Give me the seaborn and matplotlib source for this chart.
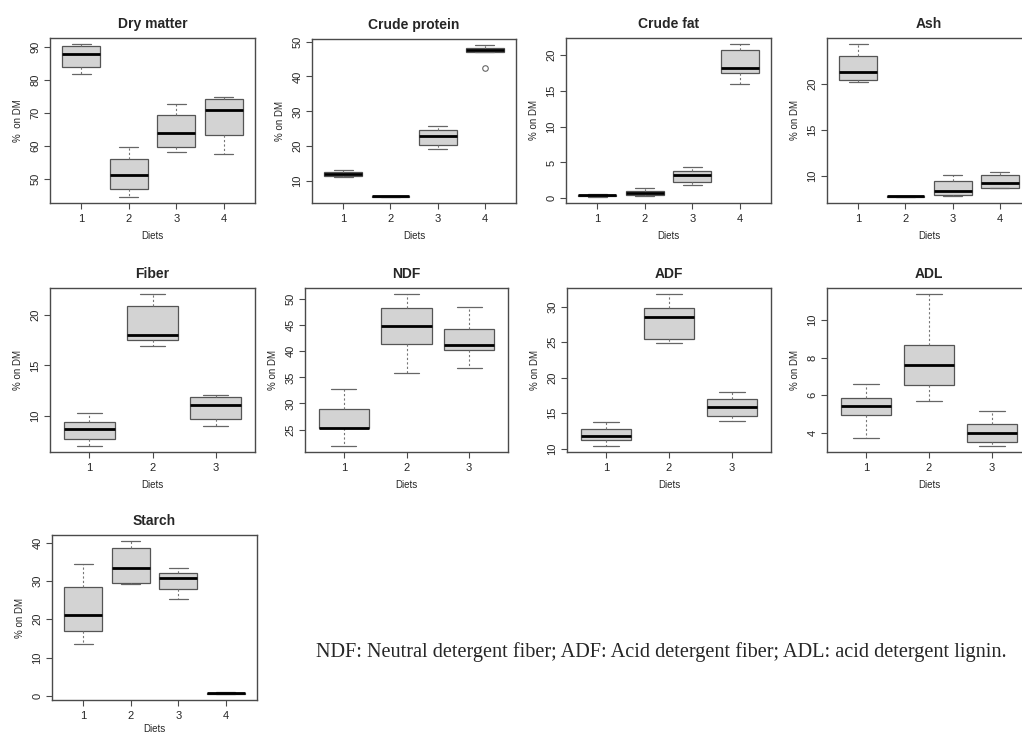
#importing libraries
import pandas as pd
import seaborn as sns
import matplotlib.pyplot as plt

#values, five per diet (min, q1, median, q3, max)
dry_matter = [[81.9, 83.9, 87.8, 90.2, 90.8],
              [44.7, 47.2, 51.4, 56.1, 59.8],
              [58.1, 59.8, 64.0, 69.4, 72.8],
              [57.6, 63.3, 71.0, 74.1, 74.9]]
crude_protein = [[11.2, 11.5, 12.0, 12.5, 13.3],
                 [5.5, 5.6, 5.7, 5.8, 5.9],
                 [19.1, 20.5, 22.9, 24.7, 25.8],
                 [42.4, 47.0, 47.6, 48.3, 49.0]]
crude_fat = [[0.2, 0.3, 0.4, 0.5, 0.6],
             [0.3, 0.47, 0.8, 1.0, 1.4],
             [1.8, 2.3, 3.3, 3.8, 4.3],
             [15.9, 17.5, 18.1, 20.7, 21.5]]
ash = [[20.2, 20.4, 21.3, 23.0, 24.3],
       [7.75, 7.78, 7.8, 7.83, 7.85],
       [7.83, 7.93, 8.4, 9.5, 10.1],
       [8.7, 8.7, 9.3, 10.1, 10.4]]
fiber = [[6.97, 7.67, 8.67, 9.37, 10.27],
         [16.93, 17.57, 18.07, 20.9, 22.1],
         [8.93, 9.67, 11.0, 11.87, 12.0]]
ndf = [[21.86, 25.26, 25.38, 28.97, 32.76],
       [35.77, 41.35, 44.87, 48.2, 50.96],
       [36.8, 40.26, 41.28, 44.36, 48.4]]
adf = [[10.38, 11.27, 11.75, 12.83, 13.77],
       [24.95, 25.5, 28.5, 29.8, 31.8],
       [13.96, 14.67, 15.85, 17.0, 17.97]]
adl = [[3.74, 4.93, 5.41, 5.87, 6.58],
       [5.71, 6.57, 7.63, 8.7, 11.39],
       [3.31, 3.54, 4.0, 4.48, 5.18]]
starch = [[13.5, 16.8, 21.1, 28.45, 34.5],
          [29.1, 29.4, 33.4, 38.5, 40.4],
          [25.2, 27.8, 30.8, 32.2, 33.4],
          [0.5, 0.6, 0.7, 0.8, 0.9]]

titles = ['Dry matter', 'Crude protein', 'Crude fat', 'Ash', 'Fiber',
          'NDF', 'ADF', 'ADL', 'Starch']
series = [dry_matter, crude_protein, crude_fat, ash, fiber, ndf, adf, adl, starch]
yticks = [[50, 60, 70, 80, 90], [10, 20, 30, 40, 50], [0, 5, 10, 15, 20],
          [10, 15, 20], [10, 15, 20], [25, 30, 35, 40, 45, 50],
          [10, 15, 20, 25, 30], [4, 6, 8, 10], [0, 10, 20, 30, 40]]
ylabels = ['%  on DM'] + ['% on DM'] * 8
note = 'NDF: Neutral detergent fiber; ADF: Acid detergent fiber; ADL: acid detergent lignin.'

sns.set_style('ticks')
plt.rcParams['font.family'] = ['Liberation Sans', 'DejaVu Sans']

W, H = 1022, 735
fig = plt.figure(figsize=(W / 100, H / 100), dpi=100)

#panel frames in pixels: left, top, right, bottom
frames = [(50, 38, 255, 203), (312, 39, 516, 203), (566, 38, 771, 203), (827, 38, 1031, 203),
          (50, 288, 255, 452), (305, 288, 508, 452), (567, 288, 771, 452), (827, 288, 1031, 452),
          (52, 535, 257, 700)]

frame_col = '#4a4a4a'
for title, vals, ticks, ylab, (l, t, r, b) in zip(titles, series, yticks, ylabels, frames):
    ax = fig.add_axes([l / W, 1 - b / H, (r - l) / W, (b - t) / H])
    rows = []
    for i, diet in enumerate(vals):
        for v in diet:
            rows.append({'Diet': str(i + 1), 'value': v})
    df = pd.DataFrame(rows)
    n = len(vals)
    sns.boxplot(data=df, x='Diet', y='value', ax=ax, color='#d3d3d3', saturation=1,
                width=0.8, whis=1.5, linecolor='#555555', linewidth=0.9,
                medianprops={'color': 'black', 'linewidth': 2.0},
                whiskerprops={'linestyle': (0, (2, 2)), 'linewidth': 0.8, 'color': '#777777'},
                capprops={'linewidth': 0.9, 'color': '#666666'},
                flierprops={'marker': 'o', 'markerfacecolor': 'none',
                            'markeredgecolor': '#666666', 'markersize': 4, 'markeredgewidth': 0.8})
    #R style limits: 4% padding around data range
    pad_x = 0.04 * n
    ax.set_xlim(-0.5 - pad_x, n - 0.5 + pad_x)
    ax.margins(y=0.04)
    ax.set_yticks(ticks)
    ax.set_yticklabels([str(v) for v in ticks], rotation=90, va='center')
    ax.tick_params(axis='both', direction='out', length=4, width=0.8, color=frame_col,
                   labelsize=8, pad=3)
    ax.tick_params(axis='x', pad=4)
    for s in ax.spines.values():
        s.set_color(frame_col)
        s.set_linewidth(1.0)
    ax.set_title(title, fontsize=10, fontweight='bold', pad=7)
    #bottom panel sits at the page edge, keep its label inside
    ax.set_xlabel('Diets', fontsize=7, labelpad=5 if title != 'Starch' else 2)
    ax.set_ylabel(ylab, fontsize=7, labelpad=5)

fig.text(316 / W, 1 - 652 / H, note, family='Liberation Serif', fontsize=14.6, va='center')

plt.savefig('out.png', dpi=100)
